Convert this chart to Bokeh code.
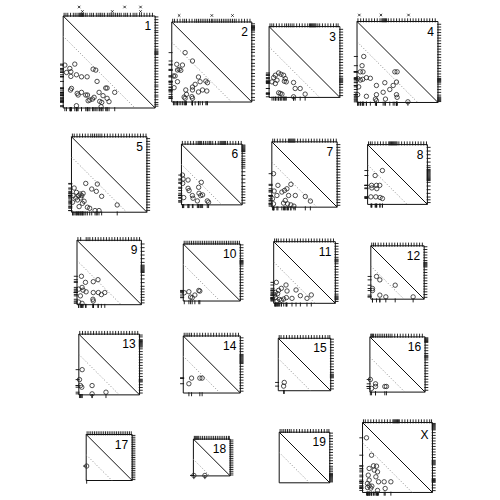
from bokeh.plotting import figure
from bokeh.layouts import column, row
from bokeh.models import Range1d
from bokeh.embed import file_html
from bokeh.resources import INLINE
from bokeh.core.properties import value

# ---------------- data ----------------
chromosomes = ["1", "2", "3", "4", "5", "6", "7", "8", "9", "10",
               "11", "12", "13", "14", "15", "16", "17", "18", "19", "X"]
lengths = [100, 87, 77, 88, 82, 66, 71, 65, 70, 62, 67, 58, 66, 62, 57, 60, 50, 40, 55, 76]
dotted_offset = 22  # cM below the main diagonal

point_x = [
    [1.8, 7.2, 12.6, 3.6, 8.3, 8.3, 14.4, 19.9, 26.0, 32.5, 35.4, 36.8, 9.0, 7.9, 15.2, 19.9, 16.2, 24.5, 26.4, 31.8, 28.9, 27.1, 33.6, 39.0, 46.2, 47.7, 43.3, 47.7, 49.8, 39.7, 41.9, 41.2, 14.4, 56.0],
    [14.5, 22.5, 5.4, 11.6, 8.0, 6.2, 9.8, 1.8, 3.6, 6.2, 2.5, 15.2, 16.0, 13.4, 22.5, 22.5, 25.4, 29.0, 30.8, 37.0, 38.8, 38.1, 33.4, 29.0, 21.8, 22.5, 14.5],
    [6.8, 10.4, 5.0, 3.2, 6.8, 8.6, 13.0, 15.8, 17.6, 16.6, 18.7, 10.4, 12.2, 14.0, 26.6, 28.4, 33.8, 26.6, 39.2],
    [7.3, 5.5, 3.6, 6.5, 0.7, 3.6, 6.2, 10.2, 14.5, 1.8, 0.7, 10.2, 21.1, 21.1, 30.2, 28.4, 30.9, 20.0, 21.1, 35.6, 39.3, 42.9, 41.1, 43.6, 42.9, 43.6, 55.3],
    [2.9, 5.4, 1.8, 4.7, 7.6, 9.4, 11.2, 12.6, 10.1, 13.7, 11.9, 8.3, 6.5, 1.1, 15.5, 22.0, 28.1, 27.0, 32.8, 17.3, 19.8, 25.6, 29.9, 49.7],
    [1.1, 1.8, 1.4, 7.2, 7.2, 8.3, 2.5, 11.9, 12.6, 18.7, 19.1, 21.6, 20.9, 23.0, 17.3, 28.1, 29.5],
    [1.8, 6.6, 2.5, 5.5, 0.7, 1.8, 10.9, 13.8, 16.4, 20.7, 18.2, 25.5, 14.6, 12.7, 17.1, 20.7, 24.0, 36.4, 41.9],
    [8.2, 16.1, 4.3, 4.6, 9.6, 10.0, 13.2, 3.6, 8.9, 13.6, 16.1],
    [4.8, 9.2, 1.8, 5.5, 6.6, 9.9, 3.7, 1.8, 5.5, 17.7, 22.8, 17.7, 23.2, 26.5, 30.2, 17.3, 17.7],
    [1.1, 6.1, 7.9, 9.7, 12.6, 16.9, 18.0],
    [2.9, 13.4, 8.3, 5.4, 1.8, 4.3, 14.5, 24.3, 29.0, 40.9, 36.2, 19.9, 13.8, 10.9, 8.3, 6.2, 3.6, 1.8, 1.1],
    [6.2, 9.8, 1.8, 1.8, 9.8, 16.3, 26.5, 46.0],
    [3.6, 0.7, 1.8, 3.2, 14.4, 14.4, 29.5],
    [9.0, 6.1, 18.0, 20.5],
    [6.5, 5.8],
    [0.5, 1.8, 6.1, 6.1, 16.2, 18.0],
    [0.5],
    [0.5, 12.5],
    [],
    [4.3, 9.8, 7.2, 11.9, 15.2, 12.7, 16.3, 6.2, 14.5, 7.2, 5.4, 7.2, 10.1, 5.4, 9.0, 17.4, 23.5, 30.8, 24.6, 16.3],
]
point_y = [
    [46.6, 43.0, 47.7, 38.6, 39.4, 34.3, 36.1, 33.9, 33.9, 42.2, 41.2, 28.9, 21.3, 19.5, 15.9, 17.0, 14.1, 14.1, 14.1, 9.7, 8.7, 7.9, 11.6, 17.0, 21.7, 21.7, 13.4, 10.5, 6.9, 7.2, 6.1, 1.4, 2.5, 17.0],
    [53.7, 44.6, 41.0, 40.2, 35.5, 34.8, 34.4, 28.3, 28.3, 22.1, 15.6, 13.1, 8.3, 5.4, 16.3, 13.1, 19.2, 27.2, 22.1, 22.8, 21.0, 12.0, 13.1, 10.9, 5.8, 4.0, 4.0],
    [24.1, 26.6, 21.6, 16.9, 15.1, 18.7, 25.2, 24.1, 20.5, 17.6, 16.9, 5.0, 4.3, 3.6, 16.2, 9.7, 9.7, 0.7, 3.6],
    [50.0, 40.0, 33.3, 33.3, 25.9, 24.4, 25.2, 27.0, 26.3, 17.0, 8.5, 6.7, 18.5, 8.5, 21.5, 11.1, 3.7, 3.7, 1.9, 14.1, 18.5, 22.2, 33.3, 33.3, 8.5, 5.6, 0.7],
    [26.3, 21.6, 18.0, 15.5, 18.0, 19.8, 18.0, 20.5, 15.5, 11.9, 9.7, 6.1, 13.3, 10.8, 31.3, 25.2, 30.6, 22.7, 17.3, 5.4, 4.3, 1.8, 1.8, 7.9],
    [32.4, 28.1, 23.4, 27.0, 18.0, 15.5, 7.9, 10.1, 7.2, 19.1, 12.6, 24.5, 10.1, 10.8, 4.3, 4.3, 2.9],
    [36.4, 23.7, 17.5, 12.7, 9.1, 3.6, 16.4, 18.2, 20.0, 24.8, 12.7, 12.7, 7.3, 4.4, 3.6, 2.5, 1.1, 11.6, 6.6],
    [31.4, 36.8, 20.7, 17.9, 20.7, 17.1, 20.7, 8.2, 8.2, 7.5, 6.4],
    [30.9, 24.3, 16.9, 18.8, 15.8, 14.0, 9.6, 2.9, 1.5, 25.0, 27.2, 13.2, 13.2, 11.0, 13.2, 5.9, 4.0],
    [9.0, 10.1, 4.3, 3.6, 6.5, 11.5, 10.8],
    [22.8, 19.9, 16.3, 14.1, 11.9, 10.5, 13.4, 14.5, 8.3, 9.1, 5.4, 5.4, 6.2, 4.7, 3.3, 4.3, 2.5, 6.2, 9.1],
    [24.7, 21.0, 11.6, 9.4, 4.4, 2.5, 15.2, 2.5],
    [27.4, 16.6, 10.1, 8.3, 10.1, 1.1, 2.9],
    [16.2, 10.1, 16.2, 16.2],
    [9.0, 5.0],
    [13.7, 4.0, 9.0, 6.1, 6.1, 6.1],
    [15.7],
    [0.5, 0.5],
    [],
    [59.4, 40.5, 26.1, 29.0, 28.6, 24.3, 22.4, 18.8, 17.0, 13.4, 9.8, 7.2, 6.9, 5.4, 4.7, 11.6, 11.6, 11.6, 4.3, 2.2],
]

# marker positions shown as rug on the top edge (cM)
top_rug = [
    [1, 3, 5, 8, 11, 13, 15, 17, 18, 19, 20, 21, 22, 24, 26, 29, 31, 33, 36, 38, 40, 41, 43, 45, 48, 50, 52, 53, 55, 57, 59, 61, 63, 66, 68, 70, 73, 76, 78, 80, 83, 85, 88, 91, 94, 97],
    [1, 3, 6, 9, 12, 14, 16, 19, 22, 25, 27, 29, 31, 33, 35, 37, 39, 41, 43, 44, 46, 48, 50, 52, 54, 56, 58, 60, 62, 64, 66, 68, 70, 73, 76, 79, 82, 85],
    [1, 3, 5, 8, 11, 14, 17, 19, 21, 23, 25, 27, 30, 33, 36, 39, 42, 44, 45, 46, 47, 48, 49, 50, 51, 53, 55, 58, 61, 64, 67, 70, 73, 75],
    [1, 4, 7, 10, 13, 16, 19, 22, 25, 27, 28, 29, 30, 31, 32, 34, 37, 40, 43, 46, 49, 52, 55, 58, 61, 64, 67, 70, 73, 76, 79, 82, 85],
    [1, 3, 6, 9, 12, 15, 18, 21, 23, 25, 27, 29, 31, 33, 36, 39, 42, 45, 48, 51, 54, 57, 60, 63, 66, 69, 72, 75, 78, 81],
    [1, 4, 7, 10, 13, 16, 18, 19, 20, 21, 22, 24, 26, 28, 30, 31, 32, 34, 37, 40, 42, 43, 44, 45, 46, 47, 48, 50, 53, 56, 59, 62, 65],
    [1, 3, 6, 9, 12, 15, 18, 19, 20, 21, 22, 23, 24, 25, 28, 31, 34, 37, 40, 43, 46, 49, 52, 55, 58, 61, 64, 67, 70],
    [1, 3, 5, 8, 11, 14, 17, 20, 23, 24, 25, 26, 27, 28, 29, 30, 31, 32, 34, 37, 40, 43, 46, 49, 52, 55, 58, 61, 64],
    [1, 4, 10, 12, 14, 17, 20, 23, 26, 29, 32, 35, 38, 41, 44, 47, 50, 53, 56, 59, 62, 65, 68],
    [1, 3, 5, 7, 9, 11, 13, 15, 17, 19, 21, 23, 25, 27, 29, 31, 33, 35, 37, 39, 41, 43, 45, 47, 49, 51, 53, 55, 57, 59, 61],
    [1, 3, 5, 8, 11, 14, 17, 20, 23, 26, 29, 32, 35, 38, 41, 44, 47, 50, 53, 56, 59, 62, 65],
    [1, 3, 5, 8, 11, 14, 17, 20, 23, 26, 29, 32, 35, 38, 41, 44, 47, 50, 53, 56],
    [1, 4, 7, 10, 13, 16, 19, 22, 25, 28, 31, 34, 37, 40, 43, 46, 49, 52, 55, 58, 61, 64],
    [1, 3, 5, 7, 9, 12, 15, 18, 21, 24, 27, 30, 33, 36, 39, 42, 45, 48, 51, 54, 57, 60],
    [1, 3, 6, 9, 12, 15, 18, 21, 24, 27, 30, 33, 36, 39, 42, 45, 48, 51, 54, 56],
    [1, 2, 3, 4, 6, 8, 10, 12, 14, 16, 18, 20, 22, 24, 27, 30, 33, 36, 39, 42, 45, 48, 51, 54, 57],
    [1, 3, 5, 7, 9, 11, 13, 15, 17, 19, 21, 23, 25, 27, 29, 31, 33, 35, 37, 39, 41, 43, 45, 47, 49],
    [1, 2, 3, 4, 5, 6, 8, 10, 12, 14, 16, 18, 20, 22, 24, 26, 28, 30, 32, 34, 36, 38, 39],
    [1, 3, 5, 7, 9, 11, 13, 16, 19, 22, 25, 28, 31, 34, 37, 40, 43, 46, 49, 52, 54],
    [1, 3, 6, 9, 12, 15, 18, 21, 24, 27, 30, 33, 34, 35, 36, 37, 38, 39, 40, 43, 46, 49, 52, 55, 58, 61, 64, 67, 70, 73, 75],
]
# marker positions shown as rug on the right edge (cM, from bottom)
right_rug = [
    [2, 4, 6, 9, 12, 14, 17, 20, 23, 25, 28, 31, 34, 37, 40, 43, 46, 49, 52, 55, 58, 59, 60, 61, 62, 64, 67, 70, 73, 76, 79, 82, 84, 87, 90, 93, 96, 99],
    [2, 5, 9, 13, 17, 20, 24, 28, 31, 35, 39, 42, 46, 50, 54, 57, 60, 63, 67, 70, 73, 76, 78, 79, 80, 81, 82, 83, 85],
    [2, 5, 8, 11, 14, 16, 17, 18, 19, 20, 21, 23, 26, 29, 32, 35, 38, 41, 44, 47, 50, 53, 56, 59, 62, 65, 68, 71, 74],
    [1, 2, 3, 4, 5, 6, 8, 11, 14, 17, 20, 22, 23, 24, 25, 26, 28, 31, 34, 37, 40, 43, 46, 49, 52, 55, 58, 61, 64, 67, 70, 73, 76, 79, 82, 85],
    [2, 5, 8, 11, 14, 17, 20, 23, 26, 29, 32, 35, 38, 41, 44, 47, 50, 53, 56, 59, 62, 65, 68, 71, 74, 77, 80],
    [2, 5, 8, 11, 14, 17, 20, 24, 28, 32, 36, 40, 42, 44, 46, 48, 50, 53, 56, 58, 59, 60, 61, 62, 63, 64, 65],
    [2, 5, 8, 11, 14, 17, 20, 23, 26, 29, 32, 35, 38, 41, 44, 47, 50, 53, 56, 59, 62, 65, 68],
    [2, 5, 8, 12, 16, 20, 24, 26, 27, 28, 29, 30, 31, 32, 33, 34, 35, 36, 37, 38, 40, 42, 46, 50, 54, 58, 62],
    [2, 5, 8, 11, 14, 17, 20, 24, 28, 32, 35, 36, 37, 38, 39, 40, 41, 42, 43, 46, 50, 54, 58, 62, 66],
    [2, 5, 8, 11, 14, 17, 20, 23, 26, 29, 32, 35, 38, 40, 41, 42, 43, 44, 46, 49, 52, 55, 58, 61],
    [2, 4, 5, 6, 7, 8, 10, 13, 16, 19, 22, 25, 28, 31, 34, 37, 40, 43, 45, 46, 47, 48, 50, 53, 56, 59, 62, 65],
    [2, 5, 8, 11, 14, 17, 20, 23, 26, 29, 32, 35, 36, 37, 38, 39, 40, 42, 45, 48, 51, 54, 57],
    [2, 5, 8, 11, 14, 15, 16, 17, 20, 23, 26, 29, 32, 35, 38, 41, 44, 47, 50, 52, 53, 54, 55, 56, 57, 58, 59, 60, 63, 65],
    [2, 5, 8, 11, 14, 17, 20, 23, 26, 29, 32, 33, 34, 35, 36, 37, 38, 39, 40, 41, 42, 45, 48, 51, 54, 57, 60],
    [2, 5, 8, 11, 14, 15, 16, 17, 18, 20, 23, 26, 29, 32, 35, 38, 41, 44, 47, 50, 53, 56],
    [2, 5, 8, 11, 14, 17, 20, 23, 26, 29, 32, 35, 37, 38, 39, 40, 42, 45, 48, 51, 54, 55, 56, 57, 58, 59],
    [1, 3, 5, 7, 9, 11, 13, 15, 17, 19, 21, 23, 25, 27, 29, 31, 33, 35, 37, 39, 41, 43, 45, 47, 49],
    [1, 3, 5, 7, 9, 11, 13, 15, 17, 19, 21, 23, 25, 27, 29, 31, 33, 35, 37, 39],
    [1, 2, 3, 4, 5, 6, 7, 8, 9, 10, 12, 14, 16, 18, 21, 24, 27, 30, 33, 36, 39, 42, 45, 48, 51, 54],
    [2, 5, 8, 11, 12, 13, 14, 15, 18, 21, 24, 27, 30, 31, 32, 33, 34, 35, 38, 41, 44, 47, 50, 53, 56, 59, 62, 65, 68, 69, 70, 71, 72, 73, 74, 75],
]
# small "x" flags above some panels (cM) and their row ("low", "high", "mid")
flag_pos = [[17.3, 20.9, 53.4, 66.8, 84.1, 84.1], [8.0, 43.5, 66.0], [], [2.5, 26.0, 56.0]] + [[] for _ in range(16)]
flag_level = [["high", "low", "low", "high", "low", "high"], ["mid"] * 3, [], ["mid"] * 3] + [[] for _ in range(16)]

# ---------------- layout (page pixels) ----------------
PX_PER_CM = 0.92
col_edges = [0, 162, 260, 348, 500]
row_edges = [0, 122, 222, 318, 410, 500]
col_centers = [108.7, 211.3, 304.0, 397.0]
row_centers = [61.5, 174.0, 272.0, 364.0, 457.0]
RUG_OUT = 3.2   # px
RUG_IN = 0.8    # px
FLAG_GAP = {"low": 4.5, "high": 9.0, "mid": 6.5}  # px above box top

INK = "#111111"


def make_panel(i, r, c):
    L = lengths[i]
    k = 1.0 / PX_PER_CM  # cM per px
    x0, x1 = col_edges[c], col_edges[c + 1]
    y0, y1 = row_edges[r], row_edges[r + 1]
    W, H = x1 - x0, y1 - y0
    s = L * PX_PER_CM
    cx = col_centers[c]
    cy = row_centers[r]
    bx = cx - s / 2 - x0
    xs = -bx * k
    db = y1 - (cy + s / 2)
    ys = -db * k
    p = figure(width=W, height=H, x_range=Range1d(xs, xs + W * k), y_range=Range1d(ys, ys + H * k),
               toolbar_location=None, output_backend="svg", min_border=0,
               x_axis_location=None, y_axis_location=None, outline_line_color=None,
               background_fill_color="white", border_fill_color="white")
    p.xgrid.visible = False
    p.ygrid.visible = False

    out, inn = RUG_OUT * k, RUG_IN * k
    px, py = point_x[i], point_y[i]
    tr, rr = top_rug[i], right_rug[i]
    # rugs
    p.segment(x0=tr, x1=tr, y0=[L - inn] * len(tr), y1=[L + out] * len(tr), line_color=INK, line_width=0.9)
    p.segment(x0=[L - inn] * len(rr), x1=[L + out] * len(rr), y0=rr, y1=rr, line_color=INK, line_width=0.9)
    p.segment(x0=px, x1=px, y0=[inn] * len(px), y1=[-out] * len(px), line_color=INK, line_width=0.9)
    p.segment(x0=[inn] * len(py), x1=[-out] * len(py), y0=py, y1=py, line_color=INK, line_width=0.9)
    # box
    p.quad(left=[0], right=[L], bottom=[0], top=[L], fill_color=None, line_color=INK, line_width=1)
    # diagonals
    p.line([0, L], [L, 0], line_color=INK, line_width=1)
    d = L - dotted_offset
    p.line([0, d], [d, 0], line_color="#8c8c8c", line_width=1, line_dash="1 2")
    # points
    p.scatter(px, py, marker="circle", size=4.4, fill_color=None, line_color="#222222", line_width=0.8)
    # flags
    if flag_pos[i]:
        fy = [L + FLAG_GAP[lv] * k for lv in flag_level[i]]
        p.scatter(flag_pos[i], fy, marker="x", size=3.5, line_color=INK, line_width=0.8)
    # label
    p.text(x=[L], y=[L], text=[chromosomes[i]], x_offset=-4, y_offset=5,
           text_align="right", text_baseline="top", text_color="black",
           text_font=value("Liberation Sans"), text_font_size="12px")
    return p


rows = []
for r in range(5):
    figs = [make_panel(r * 4 + c, r, c) for c in range(4)]
    rows.append(row(figs, spacing=0))
layout = column(rows, spacing=0)

open("out.html", "w").write(file_html(layout, INLINE))
